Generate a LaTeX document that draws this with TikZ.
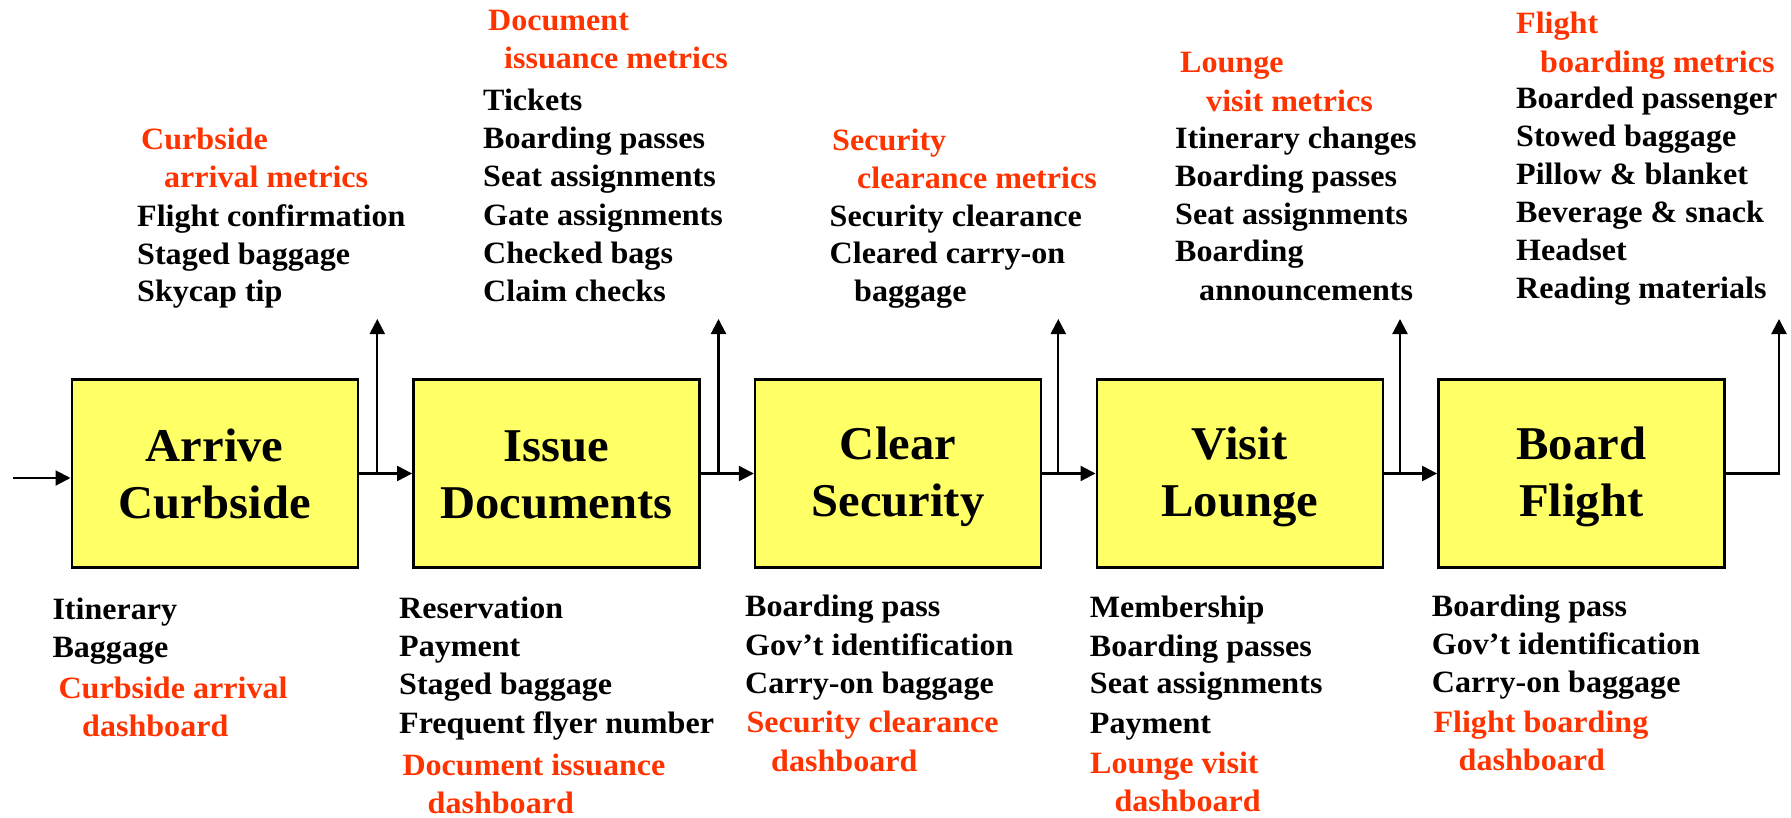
\documentclass[tikz,border=0pt]{standalone}
\usepackage{fontspec}
\setmainfont{Liberation Serif}[FakeStretch=1.035]
\usetikzlibrary{arrows.meta}
\definecolor{boxfill}{HTML}{FFFF66}
\definecolor{metred}{HTML}{FF3300}
\newcommand{\bxline}{\rule[-8pt]{0pt}{48pt}}
\begin{document}
\begin{tikzpicture}[x=1pt,y=-1pt,
  proc/.style={draw=black,line width=2.4pt,fill=boxfill,minimum width=286pt,minimum height=188pt,
    align=center,inner sep=0pt,font=\fontsize{47}{57}\selectfont\bfseries},
  lbl/.style={anchor=base west,inner sep=0pt,font=\fontsize{31}{37}\selectfont\bfseries,text=black},
  rlbl/.style={lbl,text=metred},
  flow/.style={line width=2.2pt,-{Triangle[length=15pt,width=15pt]}},
  plain/.style={line width=2.2pt}]
\useasboundingbox (0,0) rectangle (1791,817);

% process boxes
\node[proc] (b1) at (214.7,473.5) {Arrive\bxline\\Curbside\bxline};
\node[proc] (b2) at (556.3,473.5) {Issue\bxline\\Documents\bxline};
\node[proc] (b3) at (898.0,473.5) {Clear\bxline\\Security\bxline};
\node[proc] (b4) at (1239.7,473.5) {Visit\bxline\\Lounge\bxline};
\node[proc] (b5) at (1581.3,473.5) {Board\bxline\\Flight\bxline};

% connectors
\coordinate (in) at (13,478);
\draw[flow] (in) -- (in -| b1.west);
\draw[flow] (b1.east) -- (b2.west);
\draw[flow] (b2.east) -- (b3.west);
\draw[flow] (b3.east) -- (b4.west);
\draw[flow] (b4.east) -- (b5.west);
\coordinate (u1) at (377.3,319);
\coordinate (u2) at (718.5,319);
\coordinate (u3) at (1058.3,319);
\coordinate (u4) at (1400,319);
\coordinate (u5) at (1779,319);
\draw[flow] (u1 |- b1.east) -- (u1);
\draw[flow] (u2 |- b2.east) -- (u2);
\draw[flow] (u3 |- b3.east) -- (u3);
\draw[flow] (u4 |- b4.east) -- (u4);
\draw[flow] (b5.east) -- (u5 |- b5.east) -- (u5);

% top metrics
\foreach \x/\y/\t [count=\i] in {141/149.3/Curbside, 164/187.3/arrival metrics}
  \node[rlbl] (tr1-\i) at (\x,\y) {\t};
\foreach \x/\y/\t [count=\i] in {137/226/Flight confirmation, 137/264/Staged baggage, 137/301.7/Skycap tip}
  \node[lbl] (tb1-\i) at (\x,\y) {\t};

\foreach \x/\y/\t [count=\i] in {488/30/Document, 504/68/issuance metrics}
  \node[rlbl] (tr2-\i) at (\x,\y) {\t};
\foreach \x/\y/\t [count=\i] in {483/110/Tickets, 483/148/Boarding passes, 483/186.7/Seat assignments,
    483/225/Gate assignments, 483/263/Checked bags, 483/301.7/Claim checks}
  \node[lbl] (tb2-\i) at (\x,\y) {\t};

\foreach \x/\y/\t [count=\i] in {832/150/Security, 857/188/clearance metrics}
  \node[rlbl] (tr3-\i) at (\x,\y) {\t};
\foreach \x/\y/\t [count=\i] in {829.5/226/Security clearance, 829.5/263.5/Cleared carry-on, 854/301/baggage}
  \node[lbl] (tb3-\i) at (\x,\y) {\t};

\foreach \x/\y/\t [count=\i] in {1180/72.7/Lounge, 1206/111/visit metrics}
  \node[rlbl] (tr4-\i) at (\x,\y) {\t};
\foreach \x/\y/\t [count=\i] in {1175/148.3/Itinerary changes, 1175/186.7/Boarding passes,
    1175/224.3/Seat assignments, 1175/261.7/Boarding, 1199/300.7/announcements}
  \node[lbl] (tb4-\i) at (\x,\y) {\t};

\foreach \x/\y/\t [count=\i] in {1516/33.3/Flight, 1540/72.7/boarding metrics}
  \node[rlbl] (tr5-\i) at (\x,\y) {\t};
\foreach \x/\y/\t [count=\i] in {1516/108.3/Boarded passenger, 1516/146.7/Stowed baggage,
    1516/184.3/Pillow \& blanket, 1516/222.7/Beverage \& snack, 1516/260.7/Headset, 1516/298.3/Reading materials}
  \node[lbl] (tb5-\i) at (\x,\y) {\t};

% bottom inputs and dashboards
\foreach \x/\y/\t [count=\i] in {52.3/619.3/Itinerary, 52.3/657.3/Baggage}
  \node[lbl] (bb1-\i) at (\x,\y) {\t};
\foreach \x/\y/\t [count=\i] in {58.3/698.3/Curbside arrival, 82/736/dashboard}
  \node[rlbl] (br1-\i) at (\x,\y) {\t};

\foreach \x/\y/\t [count=\i] in {399/618.3/Reservation, 399/656/Payment, 399/694/Staged baggage, 399/733.3/Frequent flyer number}
  \node[lbl] (bb2-\i) at (\x,\y) {\t};
\foreach \x/\y/\t [count=\i] in {402.3/775/Document issuance, 427.5/813.3/dashboard}
  \node[rlbl] (br2-\i) at (\x,\y) {\t};

\foreach \x/\y/\t [count=\i] in {745/616.7/Boarding pass, 745/655/Gov’t identification, 745/693.3/Carry-on baggage}
  \node[lbl] (bb3-\i) at (\x,\y) {\t};
\foreach \x/\y/\t [count=\i] in {746.3/732.7/Security clearance, 771/771/dashboard}
  \node[rlbl] (br3-\i) at (\x,\y) {\t};

\foreach \x/\y/\t [count=\i] in {1089.7/617.3/Membership, 1089.7/656/Boarding passes, 1089.7/693.3/Seat assignments, 1089.7/733.3/Payment}
  \node[lbl] (bb4-\i) at (\x,\y) {\t};
\foreach \x/\y/\t [count=\i] in {1090/773.3/Lounge visit, 1114.3/811.7/dashboard}
  \node[rlbl] (br4-\i) at (\x,\y) {\t};

\foreach \x/\y/\t [count=\i] in {1431.7/616.7/Boarding pass, 1431.7/654/Gov’t identification, 1431.7/692.3/Carry-on baggage}
  \node[lbl] (bb5-\i) at (\x,\y) {\t};
\foreach \x/\y/\t [count=\i] in {1433.3/732.3/Flight boarding, 1458.5/770.7/dashboard}
  \node[rlbl] (br5-\i) at (\x,\y) {\t};
\end{tikzpicture}
\end{document}
